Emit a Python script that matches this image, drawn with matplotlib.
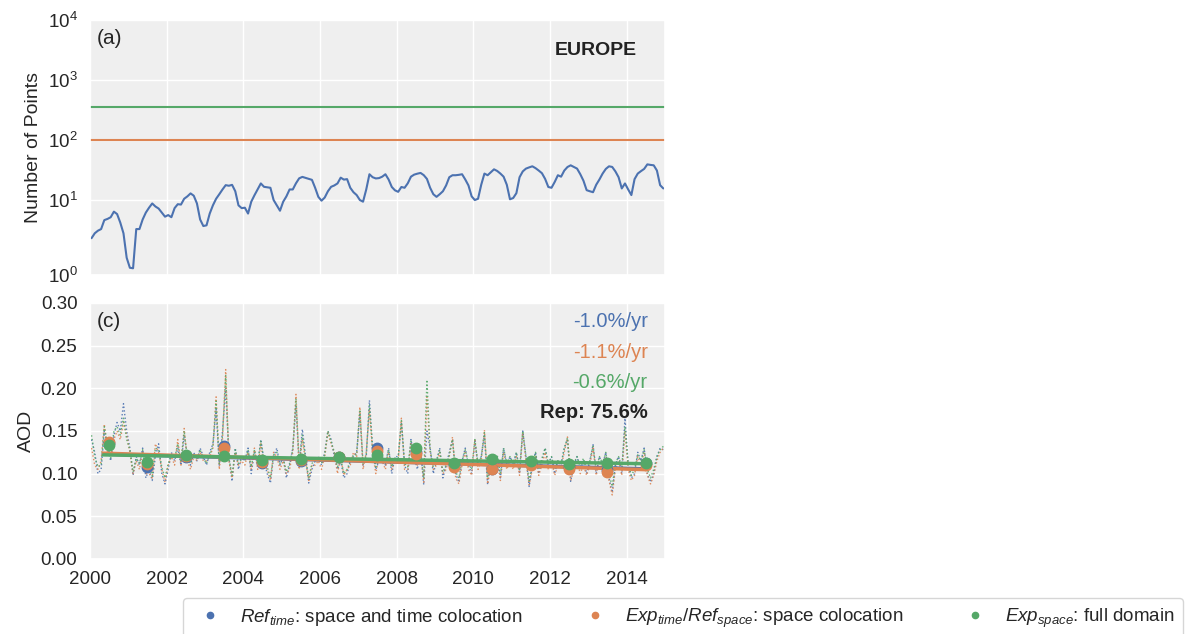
import numpy as np
import matplotlib
matplotlib.use('Agg')
import matplotlib.pyplot as plt
import matplotlib.ticker as mticker
import seaborn as sns

# Monthly number of collocated points over Europe (panel a)
n_points = [
    3.1, 3.6, 3.9, 4.1, 5.4, 5.6, 5.9, 7.0, 6.5, 5.0, 3.6, 1.7,
    1.25, 1.23, 4.1, 4.1, 5.5, 6.8, 7.9, 9.0, 8.2, 7.7, 6.8, 6.0,
    6.3, 5.9, 7.8, 8.8, 8.7, 10.5, 11.5, 12.9, 11.8, 9.0, 5.5, 4.5,
    4.6, 6.6, 8.5, 10.5, 12.5, 15.0, 17.7, 17.3, 17.9, 14.0, 8.5, 7.8,
    7.9, 6.6, 9.5, 12.0, 15.0, 18.9, 16.6, 16.3, 16.0, 10.0, 8.5, 7.2,
    9.5, 11.5, 15.0, 15.0, 19.0, 23.0, 24.3, 23.4, 22.5, 21.7, 16.0, 11.3,
    9.8, 11.0, 14.0, 16.6, 17.5, 18.9, 23.6, 21.9, 22.3, 16.0, 13.5, 12.1,
    10.0, 9.5, 15.0, 26.9, 24.0, 22.9, 23.2, 24.5, 26.9, 22.0, 16.5, 14.5,
    13.7, 16.5, 16.0, 19.0, 24.5, 26.5, 27.5, 28.3, 26.0, 22.5, 16.0, 12.5,
    11.3, 12.5, 14.0, 17.5, 24.0, 25.9, 25.9, 26.3, 26.9, 22.0, 17.5, 11.5,
    10.0, 10.5, 18.0, 27.6, 25.9, 29.0, 32.5, 30.5, 27.6, 24.5, 18.0, 10.3,
    10.8, 13.0, 24.0, 30.0, 33.4, 35.0, 36.5, 34.0, 31.0, 28.0, 22.5, 16.5,
    16.0, 20.0, 25.9, 24.5, 31.0, 35.5, 37.9, 35.5, 33.4, 27.0, 21.0, 14.6,
    14.0, 13.5, 18.0, 22.0, 27.6, 33.0, 36.5, 35.6, 30.0, 24.0, 15.6, 18.9,
    15.0, 12.1, 22.3, 27.6, 30.3, 33.0, 39.3, 38.5, 37.9, 31.0, 17.7, 15.6,
]
n_exp_time = 100
n_exp_space = 350

# Monthly AOD (panel c)
aod_ref_time = [
    0.140, 0.125, 0.100, 0.105, 0.150, 0.130, 0.115, 0.145, 0.160, 0.150, 0.182, 0.150,
    0.130, 0.098, 0.120, 0.110, 0.130, 0.095, 0.105, 0.092, 0.120, 0.135, 0.100, 0.088,
    0.105, 0.125, 0.115, 0.130, 0.110, 0.145, 0.120, 0.110, 0.125, 0.115, 0.130, 0.120,
    0.110, 0.125, 0.135, 0.175, 0.110, 0.150, 0.200, 0.120, 0.091, 0.130, 0.105, 0.120,
    0.115, 0.130, 0.100, 0.125, 0.110, 0.140, 0.115, 0.100, 0.089, 0.120, 0.130, 0.110,
    0.120, 0.095, 0.110, 0.130, 0.180, 0.110, 0.152, 0.120, 0.089, 0.105, 0.115, 0.120,
    0.110, 0.125, 0.150, 0.140, 0.120, 0.105, 0.115, 0.095, 0.100, 0.115, 0.120, 0.125,
    0.170, 0.110, 0.120, 0.186, 0.130, 0.105, 0.115, 0.120, 0.110, 0.130, 0.100, 0.120,
    0.120, 0.160, 0.110, 0.100, 0.140, 0.120, 0.105, 0.130, 0.087, 0.150, 0.130, 0.100,
    0.115, 0.130, 0.095, 0.110, 0.125, 0.140, 0.100, 0.090, 0.115, 0.130, 0.110, 0.100,
    0.138, 0.110, 0.120, 0.145, 0.087, 0.115, 0.100, 0.120, 0.095, 0.130, 0.110, 0.120,
    0.110, 0.125, 0.100, 0.150, 0.120, 0.085, 0.110, 0.125, 0.100, 0.115, 0.130, 0.110,
    0.120, 0.100, 0.115, 0.110, 0.130, 0.140, 0.091, 0.110, 0.120, 0.105, 0.115, 0.100,
    0.115, 0.134, 0.100, 0.120, 0.110, 0.125, 0.095, 0.078, 0.110, 0.120, 0.100, 0.165,
    0.110, 0.095, 0.100, 0.125, 0.115, 0.130, 0.100, 0.090, 0.100, 0.120, 0.130, 0.128,
]
aod_exp_time = [
    0.130, 0.110, 0.105, 0.115, 0.158, 0.125, 0.120, 0.140, 0.150, 0.140, 0.160, 0.145,
    0.125, 0.100, 0.115, 0.105, 0.125, 0.100, 0.100, 0.095, 0.135, 0.125, 0.105, 0.090,
    0.110, 0.120, 0.110, 0.140, 0.110, 0.153, 0.115, 0.105, 0.120, 0.115, 0.125, 0.115,
    0.115, 0.120, 0.130, 0.190, 0.105, 0.140, 0.222, 0.115, 0.095, 0.125, 0.110, 0.115,
    0.110, 0.125, 0.105, 0.130, 0.105, 0.135, 0.110, 0.105, 0.092, 0.125, 0.120, 0.105,
    0.115, 0.100, 0.105, 0.125, 0.193, 0.105, 0.140, 0.115, 0.092, 0.110, 0.110, 0.115,
    0.105, 0.120, 0.148, 0.135, 0.125, 0.100, 0.120, 0.098, 0.105, 0.110, 0.125, 0.120,
    0.178, 0.105, 0.125, 0.175, 0.125, 0.100, 0.120, 0.115, 0.105, 0.125, 0.105, 0.115,
    0.115, 0.165, 0.105, 0.105, 0.135, 0.115, 0.110, 0.125, 0.090, 0.190, 0.125, 0.105,
    0.110, 0.125, 0.100, 0.105, 0.120, 0.143, 0.095, 0.088, 0.110, 0.125, 0.105, 0.098,
    0.141, 0.105, 0.115, 0.151, 0.088, 0.110, 0.098, 0.115, 0.092, 0.125, 0.105, 0.115,
    0.105, 0.120, 0.098, 0.148, 0.115, 0.087, 0.105, 0.120, 0.098, 0.110, 0.125, 0.105,
    0.115, 0.098, 0.110, 0.108, 0.125, 0.143, 0.092, 0.105, 0.115, 0.100, 0.110, 0.098,
    0.110, 0.130, 0.098, 0.115, 0.105, 0.120, 0.092, 0.075, 0.105, 0.115, 0.098, 0.150,
    0.105, 0.092, 0.098, 0.120, 0.110, 0.125, 0.098, 0.088, 0.098, 0.115, 0.125, 0.130,
]
aod_exp_space = [
    0.145, 0.120, 0.108, 0.110, 0.155, 0.135, 0.118, 0.150, 0.155, 0.145, 0.165, 0.140,
    0.128, 0.102, 0.118, 0.112, 0.128, 0.105, 0.110, 0.097, 0.130, 0.128, 0.108, 0.095,
    0.112, 0.122, 0.118, 0.135, 0.115, 0.150, 0.118, 0.112, 0.122, 0.118, 0.128, 0.118,
    0.112, 0.122, 0.132, 0.185, 0.112, 0.145, 0.215, 0.118, 0.098, 0.128, 0.112, 0.118,
    0.115, 0.128, 0.108, 0.128, 0.112, 0.138, 0.115, 0.108, 0.095, 0.122, 0.125, 0.112,
    0.118, 0.102, 0.112, 0.128, 0.188, 0.112, 0.145, 0.118, 0.095, 0.112, 0.115, 0.118,
    0.112, 0.122, 0.150, 0.138, 0.125, 0.108, 0.118, 0.100, 0.105, 0.115, 0.122, 0.122,
    0.175, 0.112, 0.122, 0.180, 0.128, 0.108, 0.118, 0.118, 0.112, 0.128, 0.108, 0.118,
    0.118, 0.162, 0.112, 0.108, 0.138, 0.118, 0.112, 0.128, 0.095, 0.210, 0.128, 0.108,
    0.115, 0.128, 0.102, 0.110, 0.122, 0.140, 0.102, 0.095, 0.115, 0.128, 0.112, 0.105,
    0.140, 0.112, 0.120, 0.148, 0.095, 0.118, 0.108, 0.122, 0.100, 0.130, 0.112, 0.120,
    0.112, 0.125, 0.105, 0.150, 0.120, 0.092, 0.112, 0.125, 0.105, 0.118, 0.130, 0.112,
    0.120, 0.105, 0.115, 0.112, 0.130, 0.142, 0.098, 0.112, 0.120, 0.108, 0.118, 0.105,
    0.115, 0.132, 0.105, 0.120, 0.112, 0.125, 0.100, 0.085, 0.112, 0.120, 0.108, 0.155,
    0.112, 0.098, 0.105, 0.122, 0.115, 0.128, 0.105, 0.095, 0.105, 0.120, 0.128, 0.132,
]

# Annual means (mid-year)
years = list(range(2000, 2015))
annual_ref_time = [0.136, 0.108, 0.119, 0.132, 0.112, 0.115, 0.120, 0.130,
                   0.125, 0.110, 0.106, 0.112, 0.108, 0.104, 0.112]
annual_exp_time = [0.137, 0.111, 0.121, 0.130, 0.114, 0.116, 0.120, 0.127,
                   0.123, 0.108, 0.105, 0.110, 0.106, 0.102, 0.110]
annual_exp_space = [0.134, 0.114, 0.122, 0.121, 0.116, 0.117, 0.120, 0.122,
                    0.130, 0.112, 0.117, 0.115, 0.111, 0.112, 0.113]

# Linear trends: start value and %/yr
trend_start = [0.123, 0.124, 0.122]
trend_rate = [-1.0, -1.1, -0.6]
representativity = 75.6

labels = [r'$Ref_{time}$: space and time colocation',
          r'$Exp_{time}/Ref_{space}$: space colocation',
          r'$Exp_{space}$: full domain']

sns.set_theme(style='darkgrid')
plt.rcParams['font.family'] = ['Liberation Sans', 'DejaVu Sans']
plt.rcParams['mathtext.fontset'] = 'custom'
plt.rcParams['mathtext.rm'] = 'Liberation Sans'
plt.rcParams['mathtext.it'] = 'Liberation Sans:italic'
plt.rcParams['axes.facecolor'] = '#efefef'
colors = sns.color_palette('deep')[:3]

t_month = np.array([y + (m + 0.5) / 12 for y in years for m in range(12)])
t_year = np.array(years) + 0.5

fig = plt.figure(figsize=(11.85, 6.34), dpi=100)
ax1 = fig.add_axes([0.0759, 0.5662, 0.4852, 0.4022])
ax2 = fig.add_axes([0.0759, 0.1183, 0.4852, 0.4038], sharex=ax1)

# (a) number of points, log axis with a wider first decade
def fwd(y):
    l = np.log10(np.clip(y, 1e-3, None))
    return np.where(l >= 1, l, 1 - (1 - l) * 1.25)

def inv(v):
    return np.where(v >= 1, 10.0 ** v, 10.0 ** (1 - (1 - v) / 1.25))

ax1.plot(t_month, n_points, color=colors[0], lw=1.5)
ax1.axhline(n_exp_time, color=colors[1], lw=1.5)
ax1.axhline(n_exp_space, color=colors[2], lw=1.5)
ax1.set_yscale('function', functions=(fwd, inv))
ax1.set_ylim(1, 1e4)
ax1.yaxis.set_major_locator(mticker.FixedLocator([1, 10, 100, 1000, 10000]))
ax1.yaxis.set_major_formatter(mticker.FuncFormatter(
    lambda v, p: r'$\mathdefault{10^{%d}}$' % round(np.log10(v))))
ax1.set_ylabel('Number of Points', fontsize=14)
ax1.tick_params(axis='y', labelsize=13.5, length=0, pad=9)
ax1.tick_params(axis='x', labelbottom=False, length=0)
ax1.text(0.012, 0.965, '(a)', transform=ax1.transAxes, fontsize=15, va='top')
ax1.text(0.951, 0.882, 'EUROPE', transform=ax1.transAxes, fontsize=14,
         fontweight='bold', ha='right', va='center', color='#222222')

# (c) AOD time series, annual means and trends
monthly = [aod_ref_time, aod_exp_time, aod_exp_space]
annual = [annual_ref_time, annual_exp_time, annual_exp_space]
for i in range(3):
    ax2.plot(t_month, monthly[i], color=colors[i], lw=1, ls=':', alpha=0.9)
handles = []
for i in range(3):
    h, = ax2.plot(t_year, annual[i], 'o', color=colors[i], ms=7.5, zorder=4,
                  label=labels[i])
    handles.append(h)
trend_t = np.array([2000.35, 2014.5])
for i in range(3):
    y = trend_start[i] * (1 + trend_rate[i] / 100 * (trend_t - 2000.35))
    ax2.plot(trend_t, y, color=colors[i], lw=2.5, zorder=3)

for i in range(3):
    ax2.text(0.97, 0.926 - 0.118 * i, '%.1f%%/yr' % trend_rate[i],
             transform=ax2.transAxes, color=colors[i], fontsize=14.5,
             ha='right', va='center')
ax2.text(0.97, 0.572, 'Rep: %.1f%%' % representativity, transform=ax2.transAxes,
         fontsize=14.5, fontweight='bold', ha='right', va='center', color='#222222')
ax2.text(0.012, 0.965, '(c)', transform=ax2.transAxes, fontsize=15, va='top')

ax2.set_ylim(0, 0.3)
ax2.set_yticks(np.arange(0, 0.31, 0.05))
ax2.yaxis.set_major_formatter(mticker.FormatStrFormatter('%.2f'))
ax2.set_xlim(2000, 2015)
ax2.set_xticks(range(2000, 2015, 2))
ax2.xaxis.set_major_formatter(mticker.FormatStrFormatter('%d'))
ax2.set_ylabel('AOD', fontsize=14)
ax2.tick_params(labelsize=13.5, length=0, pad=9)

fig.legend(handles=handles, loc='upper left', ncol=3, mode='expand',
           bbox_to_anchor=(183 / 1185, 0, 1000 / 1185, 36 / 634),
           borderaxespad=0, markerscale=0.6, frameon=True, facecolor='white',
           edgecolor='#cccccc', fontsize=13.5, borderpad=0.45,
           handlelength=2.0, handletextpad=0.6)

fig.savefig('out.png', dpi=100)
